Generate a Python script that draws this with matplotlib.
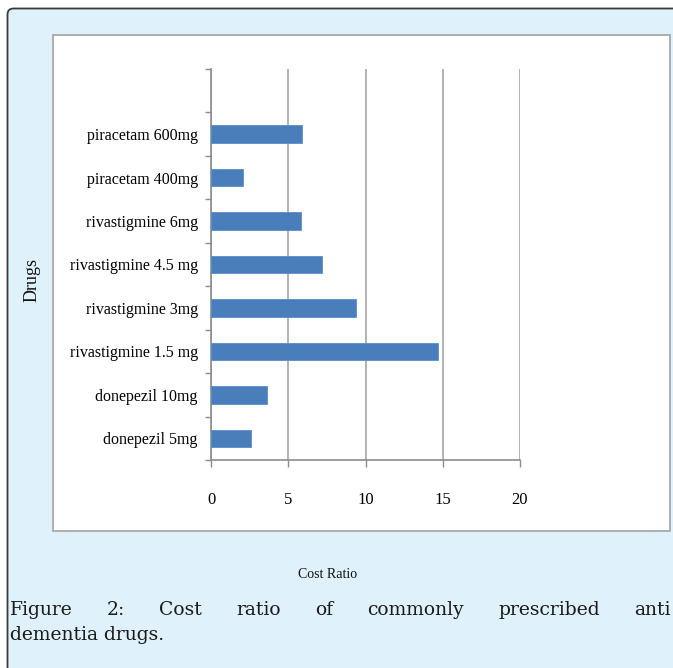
import matplotlib
matplotlib.use('Agg')
import matplotlib.pyplot as plt
import numpy as np
from matplotlib.patches import FancyBboxPatch, Rectangle

drugs = ["donepezil 5mg", "donepezil 10mg", "rivastigmine 1.5 mg", "rivastigmine 3mg",
         "rivastigmine 4.5 mg", "rivastigmine 6mg", "piracetam 400mg", "piracetam 600mg"]
cost_ratio = [2.6, 3.6, 14.7, 9.4, 7.2, 5.8, 2.1, 5.9]
x_ticks = [0, 5, 10, 15, 20]
x_label = "Cost Ratio"
y_label = "Drugs"
caption_line1 = "Figure 2: Cost ratio of commonly prescribed anti"
caption_line2 = "dementia drugs."

W, H = 673, 668
fig = plt.figure(figsize=(W / 100, H / 100), dpi=100)
fig.patch.set_facecolor('white')


def fx(x):
    return x / W


def fy(y):
    return 1 - y / H


SERIF = ['Liberation Serif', 'DejaVu Serif']

panel = FancyBboxPatch((fx(7.5), fy(720)), fx(740) - fx(7.5), fy(8.5) - fy(720),
                       boxstyle="round,pad=0,rounding_size=0.009",
                       transform=fig.transFigure, facecolor='#DFF1FB',
                       edgecolor='#3a3a3a', lw=1.3, zorder=-3)
fig.patches.append(panel)
box = Rectangle((fx(53), fy(531)), fx(670) - fx(53), fy(35) - fy(531),
                transform=fig.transFigure, facecolor='white',
                edgecolor='#A8A8A8', lw=1.3, zorder=-2)
fig.patches.append(box)

ax = fig.add_axes([fx(211), fy(460), fx(520) - fx(211), fy(69) - fy(460)])
ax.set_facecolor('none')
ax.set_zorder(2)

y = np.arange(len(drugs))
ax.barh(y, cost_ratio, height=0.4, color='#4A7EBB', edgecolor='#5A8DCA',
        linewidth=0.6, zorder=3)
ax.set_xlim(0, 20)
ax.set_ylim(-0.5, 8.5)

ax.set_xticks(x_ticks)
ax.set_xticklabels([str(v) for v in x_ticks], fontsize=12, family=SERIF)
ax.set_yticks(y)
ax.set_yticklabels(drugs, fontsize=11.5, family=SERIF)
ax.set_yticks(np.arange(-0.5, 9.0, 1.0), minor=True)
ax.tick_params(axis='y', which='major', length=0, pad=9.5)
ax.tick_params(axis='y', which='minor', length=4, color='#8C8C8C', width=1)
ax.tick_params(axis='x', which='major', length=5, color='#8C8C8C', width=1, pad=18)

ax.xaxis.grid(True, color='#A6A6A6', lw=1.2)
ax.set_axisbelow(True)
for s in ['top', 'right']:
    ax.spines[s].set_visible(False)
for s in ['left', 'bottom']:
    ax.spines[s].set_color('#8C8C8C')
    ax.spines[s].set_linewidth(1.2)

fig.text(fx(32), fy(280), y_label, rotation=90, ha='center', va='center',
         fontsize=13, family=SERIF, color='#111111')
fig.text(fx(328), fy(575), x_label, ha='center', va='center',
         fontsize=10, family=SERIF, color='#111111')

# caption, justified on the first line
fig.canvas.draw()
r = fig.canvas.get_renderer()
words = caption_line1.split()
cap_kw = dict(fontsize=13.5, family=['DejaVu Serif'], va='baseline', color='#1a1a1a')
texts = [fig.text(0, fy(615), w, **cap_kw) for w in words]
widths = [t.get_window_extent(r).width for t in texts]
x_start, x_last = 10, 634
gap = (x_last - x_start - sum(widths[:-1])) / (len(words) - 1)
xp = x_start
for t, wd in zip(texts, widths):
    t.set_x(fx(xp))
    xp += wd + gap
fig.text(fx(10), fy(640), caption_line2, **cap_kw)

fig.savefig('out.png', dpi=100)
